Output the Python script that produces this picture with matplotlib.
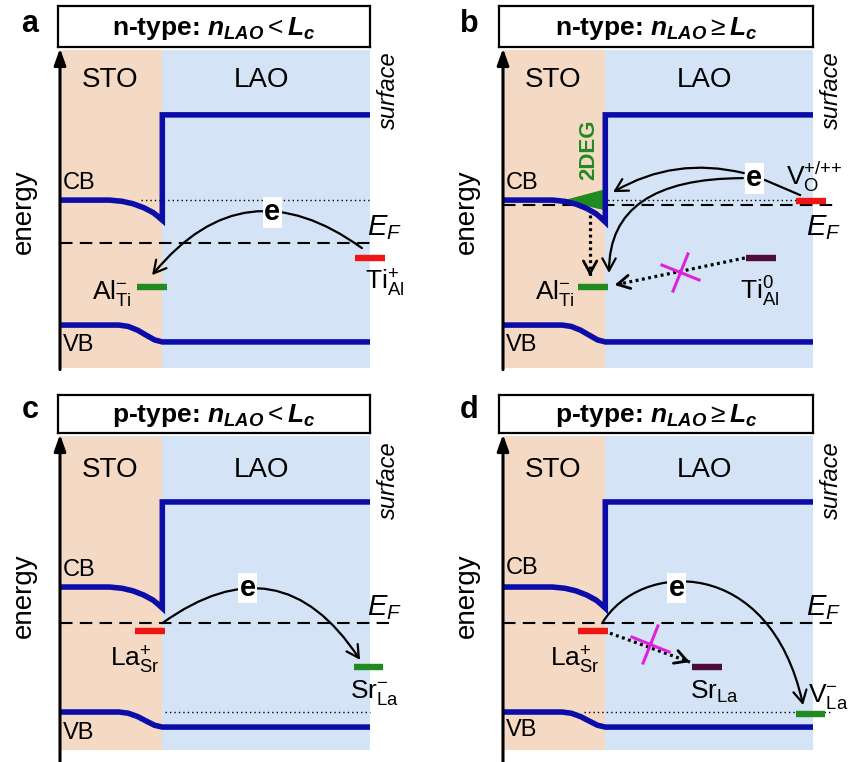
import matplotlib
matplotlib.use('Agg')
import matplotlib.pyplot as plt
from matplotlib.patches import FancyArrowPatch
from matplotlib.path import Path
from matplotlib.markers import MarkerStyle
from matplotlib.transforms import Affine2D

plt.rcParams['font.family'] = ['Liberation Sans', 'DejaVu Sans']
plt.rcParams['mathtext.fontset'] = 'custom'
plt.rcParams['mathtext.rm'] = 'Liberation Sans'
plt.rcParams['mathtext.it'] = 'Liberation Sans:italic'
plt.rcParams['mathtext.bf'] = 'Liberation Sans:bold'
plt.rcParams['mathtext.bfit'] = 'Liberation Sans:italic:bold'
plt.rcParams['mathtext.sf'] = 'Liberation Sans'

# ---- data (schematic energies, arbitrary units, x = depth 0..10, interface at 3.3) ----
panel_letters = ['a', 'b', 'c', 'd']
panel_titles = [r'n-type: $\mathbfit{n}_{\mathbfit{LAO}} < \mathbfit{L}_{\mathbfit{c}}$',
                r'n-type: $\mathbfit{n}_{\mathbfit{LAO}} \geq \mathbfit{L}_{\mathbfit{c}}$',
                r'p-type: $\mathbfit{n}_{\mathbfit{LAO}} < \mathbfit{L}_{\mathbfit{c}}$',
                r'p-type: $\mathbfit{n}_{\mathbfit{LAO}} \geq \mathbfit{L}_{\mathbfit{c}}$']
x_interface = 3.3
x_surface = 10.0
cb_sto = [5.28, 5.28, 5.19, 5.19]
cb_dip = [4.65, 4.59, 4.52, 4.52]
cb_lao = [7.96, 7.96, 7.90, 7.90]
vb_sto = [1.35, 1.35, 1.21, 1.21]
vb_lao = [0.82, 0.82, 0.73, 0.73]
e_fermi = [3.93, 5.13, 4.04, 4.04]
ef_end = [10.0, 10.7, 10.6, 10.6]

# band bending near the interface (fraction of total drop)
cb_bend_x = [0.0, 1.6, 2.0, 2.35, 2.7, 3.0, 3.15, 3.3]
cb_bend = [0.0, 0.0, 0.06, 0.18, 0.38, 0.62, 0.8, 1.0]
vb_bend_x = [0.0, 1.9, 2.2, 2.5, 2.8, 3.05, 3.3]
vb_bend = [0.0, 0.0, 0.08, 0.3, 0.62, 0.88, 1.0]

# dotted reference lines (panel, level, x from, x to)
dot_panel = [0, 1, 2, 3]
dot_level = [5.28, 5.28, 1.21, 1.21]
dot_from = [2.6, 2.8, 3.4, 2.6]
dot_to = [10.0, 10.4, 10.0, 10.6]

# defect levels: panel, x centre, energy, kind, label
defect_panel = [0, 0, 1, 1, 1, 2, 2, 3, 3, 3]
defect_x = [2.97, 10.0, 2.9, 9.94, 8.32, 2.9, 9.95, 2.9, 6.58, 9.92]
defect_e = [2.55, 3.46, 2.55, 5.25, 3.46, 3.79, 2.64, 3.79, 2.64, 1.15]
defect_kind = ['acc', 'don', 'acc', 'don', 'neu', 'don', 'acc', 'don', 'neu', 'acc']
defect_label = [r'$\mathrm{Al}_{\mathrm{Ti}}^{-}$', r'$\mathrm{Ti}_{\mathrm{Al}}^{+}$',
                r'$\mathrm{Al}_{\mathrm{Ti}}^{-}$', r'$\mathrm{V}_{\mathrm{O}}^{{+}/{+}{+}}$',
                r'$\mathrm{Ti}_{\mathrm{Al}}^{0}$',
                r'$\mathrm{La}_{\mathrm{Sr}}^{+}$', r'$\mathrm{Sr}_{\mathrm{La}}^{-}$',
                r'$\mathrm{La}_{\mathrm{Sr}}^{+}$', r'$\mathrm{Sr}_{\mathrm{La}}$',
                r'$\mathrm{V}_{\mathrm{La}}^{-}$']
label_x = [1.68, 10.48, 1.68, 10.05, 8.29, 2.42, 10.16, 2.32, 6.84, 10.5]
label_y = [2.36, 2.67, 2.36, 6.0, 2.39, 2.87, 1.82, 2.87, 1.85, 1.7]

# electron position label per panel
e_x = [6.84, 8.1, 6.06, 5.61]
e_y = [4.9, 5.97, 5.16, 5.16]

# 2DEG wedge (panel b)
deg_x = [1.9, 3.25]
deg_top = [5.28, 5.63]
deg_bottom = [5.28, 4.98]

# ---- style ----
STO_COL = '#f4d9c4'
LAO_COL = '#d4e4f6'
BAND_COL = '#0c0ca8'
kind_col = {'acc': '#218a21', 'don': '#ee1515', 'neu': '#4d0c3c'}
MAG = '#dd22dd'

W, H = 852, 762
fig = plt.figure(figsize=(W / 100, H / 100), dpi=100)


def fx(px):
    return px / W


def fy(py):
    return 1 - py / H


# plot areas in pixels: left, top, height
areas = [(60, 50, 318), (503, 50, 318), (60, 436, 314), (503, 436, 314)]
boxes = [(58, 6, 312, 41), (499, 6, 314, 41), (58, 395, 312, 38), (499, 395, 314, 38)]
letters_pos = [(30, 24), (469, 24), (30, 410), (469, 410)]

axes = []
for i in range(4):
    l, t, h = areas[i]
    ax = fig.add_axes([fx(l), fy(t + h), 310 / W, h / H])
    ax.set_xlim(0, 10)
    ax.set_ylim(0, 10)
    ax.axis('off')
    ax.axvspan(0, x_interface, color=STO_COL, lw=0, zorder=0)
    ax.axvspan(x_interface, x_surface, color=LAO_COL, lw=0, zorder=0)
    axes.append(ax)

    # title box
    bl, bt, bw, bh = boxes[i]
    tb = fig.add_axes([fx(bl), fy(bt + bh), bw / W, bh / H])
    tb.set_xticks([])
    tb.set_yticks([])
    for s in tb.spines.values():
        s.set_linewidth(1.6)
    tb.text(0.5, 0.45, panel_titles[i], ha='center', va='center', fontsize=19,
            fontweight='bold', transform=tb.transAxes)
    fig.text(fx(letters_pos[i][0]), fy(letters_pos[i][1]), panel_letters[i],
             fontsize=22, fontweight='bold', ha='center', va='center')

    # energy axis arrow
    ax.annotate('', xy=(0, 10.05), xytext=(0, -0.05 if i < 2 else -0.4),
                arrowprops=dict(arrowstyle='-|>,head_length=0.7,head_width=0.25',
                                lw=2.2, color='k', mutation_scale=14, shrinkA=0, shrinkB=0),
                annotation_clip=False, zorder=6)
    ax.text(-1.15, 4.9, 'energy', rotation=90, ha='center', va='center', fontsize=20)

    # bands
    cx = cb_bend_x + [x_interface, x_surface]
    cy = [cb_sto[i] - (cb_sto[i] - cb_dip[i]) * f for f in cb_bend] + [cb_lao[i], cb_lao[i]]
    ax.plot(cx, cy, color=BAND_COL, lw=4.0, solid_joinstyle='miter', zorder=3)
    vx = vb_bend_x + [x_surface]
    vy = [vb_sto[i] - (vb_sto[i] - vb_lao[i]) * f for f in vb_bend] + [vb_lao[i]]
    ax.plot(vx, vy, color=BAND_COL, lw=4.0, solid_joinstyle='round', zorder=3)

    # Fermi level
    ax.plot([0, ef_end[i]], [e_fermi[i], e_fermi[i]], color='k', lw=1.5,
            dashes=(6, 3.5), clip_on=False, zorder=2)
    ax.text(10.35 if i % 2 else 10.48, 4.42 if i < 2 else 4.52, r'$E_F$',
            fontsize=21, ha='center', va='center', clip_on=False)

    # labels
    ax.text(1.6, 9.06 if i < 2 else 8.92, 'STO', fontsize=20, ha='center', va='center')
    ax.text(6.5, 9.06 if i < 2 else 8.92, 'LAO', fontsize=20, ha='center', va='center')
    ax.text(10.6, 8.74 if i < 2 else 8.6, 'surface', rotation=90, style='italic',
            fontsize=17, ha='center', va='center')
    ax.text(0.1, [5.82, 5.82, 5.73, 5.8][i], 'CB', fontsize=17, ha='left', va='center')
    ax.text(0.1, [0.72, 0.72, 0.54, 0.64][i], 'VB', fontsize=17, ha='left', va='center')
    ax.text(e_x[i], e_y[i], 'e', fontsize=21, fontweight='bold', ha='center', va='center',
            zorder=7, bbox=dict(boxstyle='square,pad=0.05', fc='white', ec='none'))

# dotted reference lines
for p, lev, a, b in zip(dot_panel, dot_level, dot_from, dot_to):
    axes[p].plot([a, b], [lev, lev], color='k', lw=1.0, ls=(0, (1, 2.2)),
                 clip_on=False, zorder=2)

# defect levels
for p, x, e, k, lab, lx, ly in zip(defect_panel, defect_x, defect_e, defect_kind,
                                   defect_label, label_x, label_y):
    axes[p].plot([x - 0.48, x + 0.48], [e, e], color=kind_col[k], lw=4.6,
                 solid_capstyle='butt', clip_on=False, zorder=5)
    axes[p].text(lx, ly, lab, fontsize=19, ha='center', va='center', clip_on=False)

# 2DEG
axb = axes[1]
axb.fill_between(deg_x, deg_bottom, deg_top, color='#218a21', lw=0, zorder=2)
axb.text(2.78, 6.86, '2DEG', rotation=90, color='#218a21', fontsize=16,
         fontweight='bold', ha='center', va='center')

# electron transfer arrows
AST = '->,head_length=0.55,head_width=0.3'


def arc(ax, a, b, cs):
    ax.add_patch(FancyArrowPatch(a, b, connectionstyle=cs, arrowstyle=AST,
                                 mutation_scale=16, lw=1.6, color='k',
                                 shrinkA=0, shrinkB=0, zorder=6, clip_on=False))


arc(axes[0], (9.74, 3.77), (2.97, 2.92), 'arc3,rad=0.47')
arc(axes[1], (7.77, 6.13), (3.55, 5.53), 'arc3,rad=0.2')
arc(axes[1], (7.74, 5.97), (3.42, 2.99), 'angle3,angleA=0,angleB=90')
axes[1].plot([9.58, 8.45], [5.44, 5.91], color='k', lw=1.6, zorder=6, clip_on=False)
arc(axes[2], (3.3, 4.04), (9.68, 2.87), 'arc3,rad=-0.52')
verts = [(3.2, 4.04), (4.42, 6.05), (8.61, 6.21), (9.68, 1.43)]
axes[3].add_patch(FancyArrowPatch(path=Path(verts, [Path.MOVETO, Path.CURVE4, Path.CURVE4, Path.CURVE4]),
                                  arrowstyle=AST, mutation_scale=16, lw=1.6, color='k',
                                  zorder=6, clip_on=False))


def dotted(ax, a, b):
    ax.plot([a[0], b[0]], [a[1], b[1]], color='k', lw=2.3, ls=(0, (0.9, 1.1)), zorder=6)
    dx, dy = b[0] - a[0], b[1] - a[1]
    ax.annotate('', xy=b, xytext=(b[0] - dx * 0.05, b[1] - dy * 0.05),
                arrowprops=dict(arrowstyle=AST, lw=2.0, color='k', mutation_scale=16,
                                shrinkA=0, shrinkB=0), zorder=6)


dotted(axes[1], (2.81, 4.81), (2.81, 2.89))
dotted(axes[1], (7.8, 3.46), (3.6, 2.61))
dotted(axes[3], (3.45, 3.72), (6.03, 2.8))

cross = MarkerStyle('x', transform=Affine2D().rotate_deg(23))
axes[1].plot(5.71, 3.02, marker=cross, ms=22, mew=2.2, color=MAG, zorder=8)
axes[3].plot(4.74, 3.36, marker=cross, ms=22, mew=2.2, color=MAG, zorder=8)

fig.savefig('out.png', dpi=100)
